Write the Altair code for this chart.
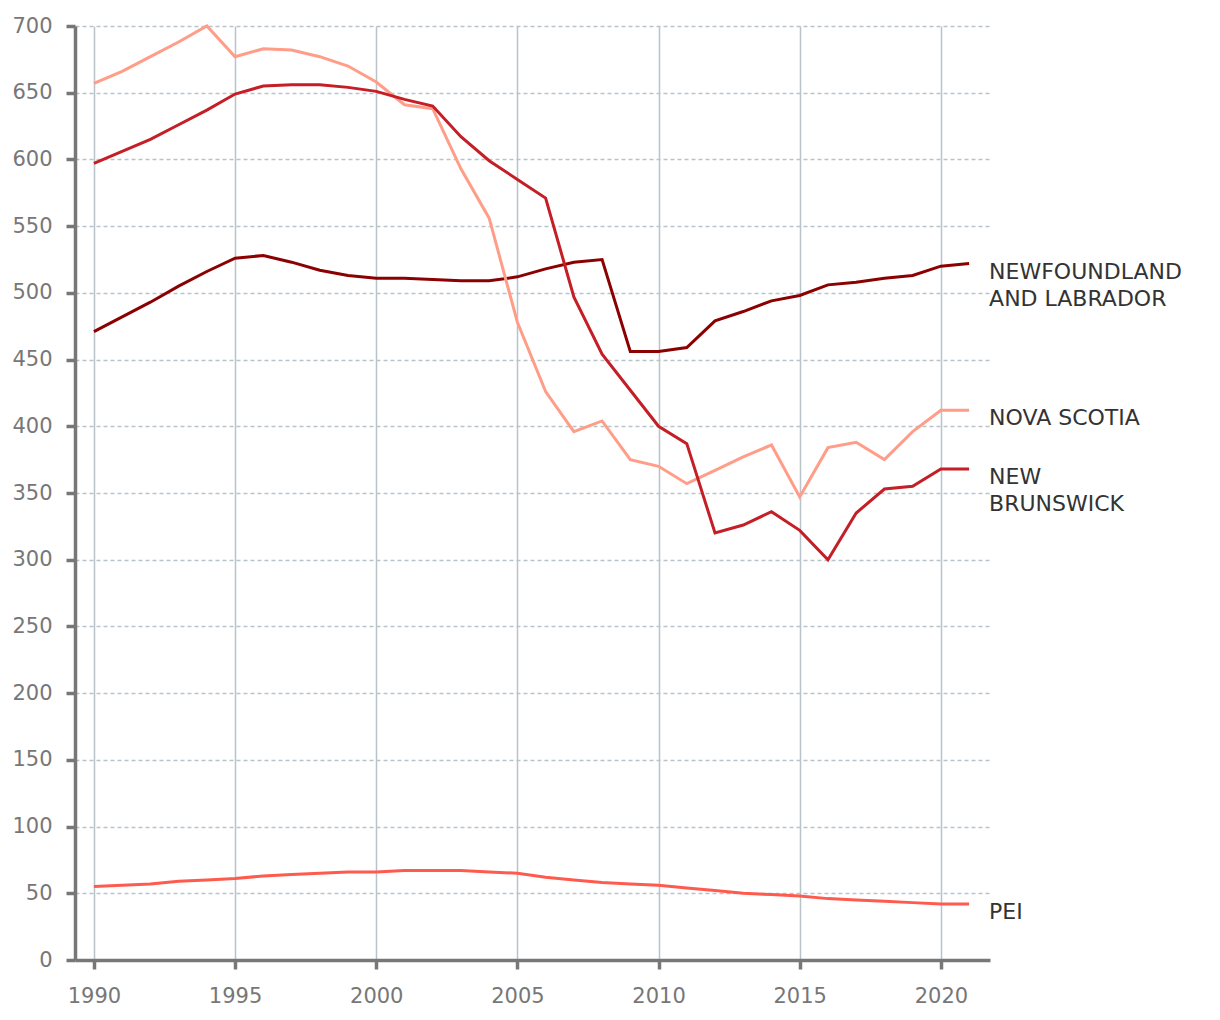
import altair as alt
import pandas as pd

years = list(range(1990, 2022))

nl = [471, 482, 493, 505, 516, 526, 528, 523, 517, 513, 511, 511, 510, 509, 509, 512,
      518, 523, 525, 456, 456, 459, 479, 486, 494, 498, 506, 508, 511, 513, 520, 522]
ns = [657, 666, 677, 688, 700, 677, 683, 682, 677, 670, 658, 641, 638, 593, 556, 478,
      426, 396, 404, 375, 370, 357, 367, 377, 386, 347, 384, 388, 375, 396, 412, 412]
nb = [597, 606, 615, 626, 637, 649, 655, 656, 656, 654, 651, 645, 640, 617, 599, 585,
      571, 497, 454, 427, 400, 387, 320, 326, 336, 322, 300, 335, 353, 355, 368, 368]
pei = [55, 56, 57, 59, 60, 61, 63, 64, 65, 66, 66, 67, 67, 67, 66, 65,
       62, 60, 58, 57, 56, 54, 52, 50, 49, 48, 46, 45, 44, 43, 42, 42]

series_names = ["NL", "NS", "NB", "PEI"]
series_labels = ["NEWFOUNDLAND\nAND LABRADOR", "NOVA SCOTIA", "NEW\nBRUNSWICK", "PEI"]
series_colors = ["#8b0000", "#ff9d88", "#c41e26", "#ff5a4e"]
series_values = [nl, ns, nb, pei]

rows = []
for name, vals in zip(series_names, series_values):
    for y, v in zip(years, vals):
        rows.append({"year": y, "value": v, "series": name})
df = pd.DataFrame(rows)

lab = pd.DataFrame({
    "year": [years[-1]] * 4,
    "value": [vals[-1] for vals in series_values],
    "series": series_names,
    "label": series_labels,
})

FONT = "DejaVu Sans"

x = alt.X("year:Q",
          scale=alt.Scale(domain=[1989.33, 2021.74], nice=False, zero=False),
          axis=alt.Axis(values=[1990, 1995, 2000, 2005, 2010, 2015, 2020], format="d",
                        title=None, grid=True, gridColor="#b8c3ca", gridWidth=1.5,
                        domainColor="#777777", domainWidth=3.5,
                        tickColor="#777777", tickWidth=3.5, tickSize=9,
                        labelColor="#777777", labelFontSize=21, labelFont=FONT,
                        labelPadding=16))
y = alt.Y("value:Q",
          scale=alt.Scale(domain=[0, 700], nice=False),
          axis=alt.Axis(values=list(range(0, 701, 50)), title=None, grid=True,
                        gridColor="#b8c3ca", gridWidth=1.5, gridDash=[4, 3],
                        domainColor="#777777", domainWidth=3.5,
                        tickColor="#777777", tickWidth=3.5, tickSize=9,
                        labelColor="#777777", labelFontSize=21, labelFont=FONT,
                        labelPadding=14))

color = alt.Color("series:N",
                  scale=alt.Scale(domain=series_names, range=series_colors),
                  legend=None)

lines = alt.Chart(df).mark_line(strokeWidth=3).encode(x=x, y=y, color=color,
                                                        detail="series:N")

labels = alt.Chart(lab).mark_text(align="left", baseline="alphabetic", dx=20, dy=15,
                                  font=FONT, fontSize=22, color="#333333",
                                  lineBreak="\n", lineHeight=27).encode(
    x="year:Q", y="value:Q", text="label:N")

chart = alt.layer(lines, labels).properties(
    width=915, height=934,
    autosize=alt.AutoSizeParams(type="none"),
    padding={"left": 75, "top": 26, "right": 230, "bottom": 60},
).configure_view(stroke=None).configure_axisX(gridDash=[])

chart.save("out.html", embed_options={"renderer": "svg", "actions": False})
